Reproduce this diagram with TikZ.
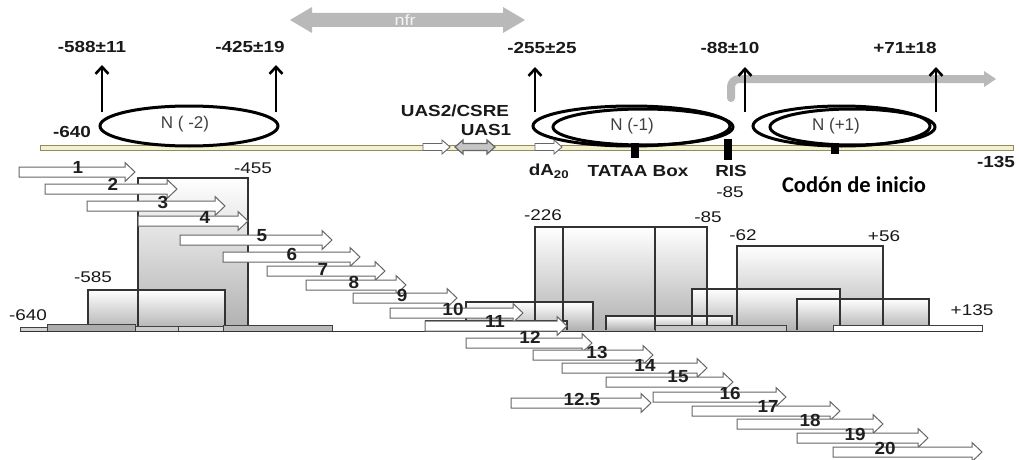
\documentclass[tikz,border=0pt]{standalone}
\usepackage{fontspec}
\setmainfont{Liberation Sans}
\newfontfamily\calfont{Carlito}
\usetikzlibrary{arrows.meta}
\tikzset{
  toplbl/.style={font=\fontsize{16}{17}\selectfont\bfseries, xscale=1.18, inner sep=0pt, text=black!90},
  poslbl/.style={font=\fontsize{15.5}{16}\selectfont, xscale=1.22, inner sep=0pt, text=black!90},
  numlbl/.style={font=\fontsize{17.5}{18}\selectfont\bfseries, xscale=1.08, inner sep=0pt, text=black!88},
  nuclbl/.style={font=\fontsize{17}{17}\selectfont, inner sep=0pt, text=black!75},
  nuc/.style={draw=black, line width=3pt},
  uparrow/.style={line width=2.6pt, -{Straight Barb[length=7pt,width=13pt,line width=2.6pt]}},
  blkmark/.style={fill=black},
  histfill/.style={top color=white, middle color=gray!14, bottom color=gray!62},
  histline/.style={draw=black!80, line width=1.2pt},
  strip/.style={draw=black!75, line width=0.8pt},
  blkarr/.style={draw=black!60, fill=white, line width=1pt},
}
\newcommand\blkarrow[3]{%
  \draw[blkarr] (#1,#3-5) -- (#2-10,#3-5) -- (#2-10,#3-9.5) -- (#2,#3) -- (#2-10,#3+9.5) -- (#2-10,#3+5) -- (#1,#3+5) -- cycle;}
\newcommand\smallarrow[2]{%
  \draw[blkarr, line width=0.9pt] (#1,147-3.5) -- (#2-8,147-3.5) -- (#2-8,147-7) -- (#2,147) -- (#2-8,147+7) -- (#2-8,147+3.5) -- (#1,147+3.5) -- cycle;}
\newcommand\histbox[3]{%
  \shade[histfill] (#1,330) rectangle (#2,#3);}
\newcommand\histedge[3]{%
  \draw[histline] (#1,330) -- (#1,#3) -- (#2,#3) -- (#2,330);}
\begin{document}
\begin{tikzpicture}[x=1pt,y=-1pt]
\useasboundingbox (0,0) rectangle (1019,460);
\fill[white] (0,0) rectangle (1019,460);

% nfr double arrow
\fill[gray!55] (290,20) -- (312,7) -- (312,13) -- (503,13) -- (503,7) -- (525,20) -- (503,33) -- (503,27) -- (312,27) -- (312,33) -- cycle;
\node[font=\fontsize{15}{15}\selectfont, text=gray!8, inner sep=0pt, xscale=1.2] (nfr) at (405,20) {nfr};

% transcription bent arrow
\coordinate (tss) at (731,98);
\coordinate (tssend) at (996,79);
\draw[line width=8pt, draw=gray!55, rounded corners=8pt, line cap=round] (tss) -- (731,79) -- (984,79);
\fill[gray!55] (984,71) -- (tssend) -- (984,87) -- cycle;

% main strip
\draw[fill={rgb,255:red,246;green,241;blue,205}, draw={rgb,255:red,140;green,140;blue,100}, line width=0.8pt] (40,145) rectangle (1013,150);

% nucleosomes
\draw[nuc] (189,126) ellipse [x radius=89, y radius=20];
\draw[nuc] (631.5,126) ellipse [x radius=98.5, y radius=20];
\draw[nuc] (643,127) ellipse [x radius=90, y radius=18];
\draw[nuc] (841.5,126) ellipse [x radius=88.5, y radius=20];
\draw[nuc] (852.5,127) ellipse [x radius=82.5, y radius=18];
\node[nuclbl] (nm2) at (185,124) {N ( -2)};
\node[nuclbl] (nm1) at (632,126) {N (-1)};
\node[nuclbl] (np1) at (836,126) {N (+1)};

% markers
\fill[blkmark] (631,143) rectangle (639,158);
\fill[blkmark] (724,139) rectangle (732,160);
\fill[blkmark] (831,144) rectangle (839,154);

% small element arrows on strip
\smallarrow{423}{450}
\draw[blkarr, fill=gray!45, line width=1.2pt] (455,147) -- (463,140) -- (463,143.5) -- (487,143.5) -- (487,140) -- (495,147) -- (487,154) -- (487,150.5) -- (463,150.5) -- (463,154) -- cycle;
\smallarrow{535}{562}

% top labels and arrows
\node[toplbl] (l588) at (92,47) {-588±11};
\node[toplbl] (l425) at (250,47) {-425±19};
\node[toplbl] (l255) at (542,48) {-255±25};
\node[toplbl] (l88) at (730,48) {-88±10};
\node[toplbl] (l71) at (905,48) {+71±18};
\coordinate (u588) at (102,112);
\coordinate (u425) at (276,112);
\coordinate (u255) at (535,112);
\coordinate (u88) at (745,112);
\coordinate (u71) at (936,112);
\draw[uparrow] (u588) -- ++(0,-47);
\draw[uparrow] (u425) -- ++(0,-47);
\draw[uparrow] (u255) -- ++(0,-45);
\draw[uparrow] (u88) -- ++(0,-45);
\draw[uparrow] (u71) -- ++(0,-45);
\node[toplbl] (l640t) at (72,132) {-640};
\node[toplbl] (uas2) at (455,111) {UAS2/CSRE};
\node[toplbl] (uas1) at (486,130) {UAS1};
\node[toplbl] (da20) at (549,171) {dA\textsubscript{20}};
\node[toplbl] (tata) at (638,171) {TATAA Box};
\node[toplbl] (ris) at (731,171) {RIS};
\node[poslbl] (ris85) at (730,192) {-85};
\node[font=\calfont\fontsize{22.5}{23}\selectfont\bfseries, inner sep=0pt] (codon) at (854,185) {Codón de inicio};
\node[toplbl] (l135t) at (996,162) {-135};

% histogram boxes (fills, tall first)
\histbox{138}{248}{178}
\histbox{535}{655}{227}
\histbox{563}{707}{227}
\histbox{737}{883}{246}
\histbox{692}{840}{289}
\histbox{88}{225}{290}
\histbox{797}{929}{299}
\histbox{466}{593}{302}
\histbox{606}{732}{316}
\histbox{426}{567}{321}
% histogram boxes (outlines)
\histedge{138}{248}{178}
\histedge{535}{655}{227}
\histedge{563}{707}{227}
\histedge{737}{883}{246}
\histedge{88}{225}{290}
\histedge{692}{840}{289}
\histedge{797}{929}{299}
\histedge{466}{593}{302}
\histedge{606}{732}{316}
\histedge{426}{567}{321}

% baseline strips
\draw[strip, fill=gray!35] (20,327) rectangle (47,331);
\draw[strip, fill=gray!65] (47,324) rectangle (135,331);
\draw[strip, fill=gray!40] (135,326) rectangle (178,331);
\draw[strip, fill=gray!30] (178,326) rectangle (223,331);
\draw[strip, fill=gray!55] (223,325) rectangle (332,331);
\draw[strip, fill=gray!45] (655,325) rectangle (786,331);
\draw[strip, fill=white] (833,325) rectangle (982,331);
\draw[black!80, line width=1pt] (20,331) -- (982,331);

% position labels
\node[poslbl] (p455) at (253,168) {-455};
\node[poslbl] (p585) at (93,277) {-585};
\node[poslbl] (p640) at (28,315) {-640};
\node[poslbl] (p226) at (543,215) {-226};
\node[poslbl] (p85) at (708,217) {-85};
\node[poslbl] (p62) at (743,235) {-62};
\node[poslbl] (p56) at (884,236) {+56};
\node[poslbl] (p135) at (972,310) {+135};

% numbered block arrows
\blkarrow{19}{135}{172}
\blkarrow{45}{177}{189}
\blkarrow{87}{225}{206}
\blkarrow{138}{248}{221}
\blkarrow{180}{332}{240}
\blkarrow{223}{360}{257}
\blkarrow{267}{385}{271}
\blkarrow{306}{406}{285}
\blkarrow{353}{457}{298}
\blkarrow{390}{523}{313}
\blkarrow{425}{567}{326}
\blkarrow{466}{592}{343}
\blkarrow{533}{653}{355}
\blkarrow{562}{707}{368}
\blkarrow{606}{733}{382}
\blkarrow{511}{651}{403}
\blkarrow{653}{786}{397}
\blkarrow{692}{840}{411}
\blkarrow{737}{883}{424}
\blkarrow{797}{928}{438}
\blkarrow{833}{982}{452}

\node[numlbl] (n1) at (78,167) {1};
\node[numlbl] (n2) at (113,184) {2};
\node[numlbl] (n3) at (163,202) {3};
\node[numlbl] (n4) at (205,217) {4};
\node[numlbl] (n5) at (262,236) {5};
\node[numlbl] (n6) at (292,254) {6};
\node[numlbl] (n7) at (323,269) {7};
\node[numlbl] (n8) at (354,282) {8};
\node[numlbl] (n9) at (402,295) {9};
\node[numlbl] (n10) at (453,309) {10};
\node[numlbl] (n11) at (495,321) {11};
\node[numlbl] (n12) at (530,337) {12};
\node[numlbl] (n13) at (597,352) {13};
\node[numlbl] (n14) at (645,365) {14};
\node[numlbl] (n15) at (678,377) {15};
\node[numlbl] (n125) at (582,399) {12.5};
\node[numlbl] (n16) at (730,393) {16};
\node[numlbl] (n17) at (768,406) {17};
\node[numlbl] (n18) at (810,420) {18};
\node[numlbl] (n19) at (855,434) {19};
\node[numlbl] (n20) at (885,448) {20};
\end{tikzpicture}
\end{document}
